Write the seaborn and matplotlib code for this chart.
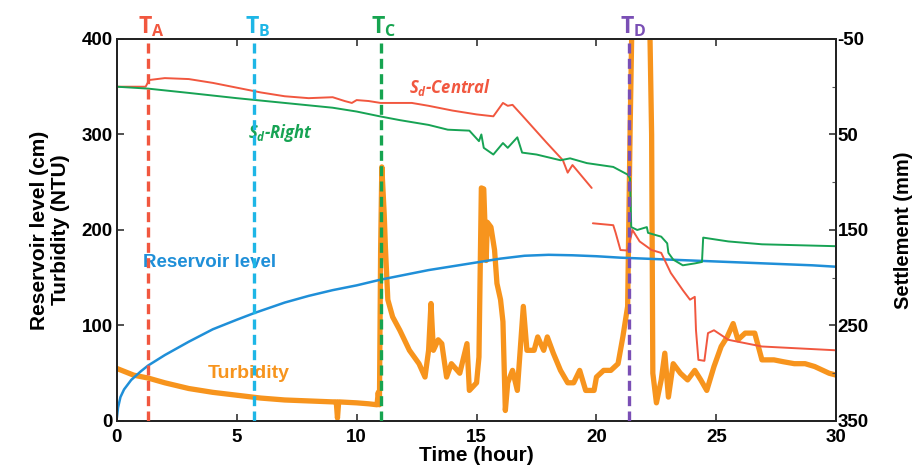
import numpy as np
import pandas as pd
import matplotlib
matplotlib.use("Agg")
import matplotlib.pyplot as plt
import seaborn as sns

# ---------------- data ----------------
level_t = [0, 0.05, 0.15, 0.3, 0.6, 1.0, 1.3, 2, 3, 4, 5, 5.73, 7, 8, 9, 10, 11, 12, 13, 14, 15,
           16, 17, 18, 19, 20, 21, 22, 23, 24, 25, 26, 27, 28, 29, 30]
level_cm = [3, 14, 25, 33, 43, 52, 58, 69, 83, 96, 106, 113, 124, 131, 137, 142, 148, 153, 158, 162, 166,
            170, 173, 174, 173.5, 172.5, 171, 170, 169, 168, 167, 166, 165, 164, 163, 161.5]

turb_t = [0, 0.3, 0.7, 1.3, 2, 3, 4, 5, 6, 7, 8, 9, 9.15, 9.2, 9.25, 10, 10.5, 10.85, 10.9, 10.95,
          11.0, 11.05, 11.15, 11.2, 11.3, 11.5, 11.8, 12.2, 12.6, 12.85, 13.0, 13.1, 13.2, 13.4, 13.55,
          13.75, 13.95, 14.3, 14.6, 14.7, 15.0, 15.1, 15.2, 15.3, 15.4, 15.45, 15.6, 15.75, 15.85, 16.0,
          16.1, 16.2, 16.3, 16.5, 16.7, 16.95, 17.1, 17.4, 17.55, 17.8, 17.95, 18.2, 18.5, 18.8, 19.05,
          19.3, 19.55, 19.9, 20.0, 20.3, 20.6, 20.9, 21.1, 21.3, 21.4, 21.5, 22.2, 22.3, 22.35, 22.5,
          22.7, 22.85, 23.0, 23.2, 23.5, 23.8, 24.1, 24.35, 24.6, 24.9, 25.2, 25.45, 25.7, 25.9, 26.2,
          26.6, 26.9, 27.4, 27.8, 28.25, 28.7, 29.1, 29.7, 30]
turb_ntu = [55, 52, 48, 45, 40, 34, 30, 27, 24, 22, 21, 20, 20, 3, 20, 19, 18, 17, 30, 17,
            180, 266, 216, 181, 127, 109, 95, 74, 60, 46, 74, 123, 74, 85, 81,
            46, 60, 50, 81, 32, 40, 67, 244, 243, 168, 208, 203, 179, 144, 127,
            104, 11, 40, 53, 32, 120, 74, 74, 88, 74, 88, 71, 53, 40, 40,
            53, 32, 32, 46, 53, 53, 60, 88, 120, 300, 450, 450, 300, 50, 19,
            43, 71, 25, 60, 50, 43, 53, 43, 32, 57, 78, 88, 102, 85, 92,
            92, 64, 64, 62, 60, 60, 57, 50, 48]

right_t = [0, 1.3, 3, 5, 7, 9, 10, 10.96, 11.8, 13.0, 13.8, 14.7, 15.1, 15.2, 15.3, 15.7, 16.1, 16.3,
           16.7, 16.9, 17.5, 18.5, 18.9, 19.6, 20.7, 21.3, 21.4, 21.45, 21.7, 22.1, 22.15, 22.7, 22.95,
           23.0, 23.2, 23.6, 24.1, 24.4, 24.45, 25.5, 26.9, 30]
right_mm = [0, 2, 6.5, 12, 17, 22, 26, 31, 35, 40, 45, 46, 57, 50, 64, 71, 59, 64,
            53, 69, 71, 77, 75, 80, 84, 92, 96, 147, 150, 147, 153, 157, 164,
            174, 181, 187, 185, 183.5, 158, 162, 165, 167]

central_t1 = [0, 1.2, 1.35, 2, 3, 4, 5, 6, 7, 8, 9, 9.5, 9.8, 10, 10.5, 11, 12.3, 13, 14, 15, 15.7,
              16.1, 16.3, 16.5, 16.9, 17.9, 18.6, 18.8, 19.0, 19.8]
central_mm1 = [0, 0, -7, -9, -8, -4, 1, 6, 10, 12, 11, 15, 17, 14, 15, 17, 17, 20, 25, 29, 31,
               17, 20, 19, 30, 58, 77, 90, 82, 106]
central_t2 = [19.85, 20.7, 20.8, 21.0, 21.3, 21.5, 21.8, 22.3, 22.7, 23.1, 23.6, 23.9, 24.1, 24.15,
              24.25, 24.5, 24.65, 24.9, 25.5, 26.9, 30]
central_mm2 = [143, 145, 153, 171, 171.5, 150, 162, 171, 174, 195, 213, 223, 220, 255,
               286, 287, 258, 255, 265, 272, 276]

events = ["A", "B", "C", "D"]
event_t = [1.3, 5.73, 11.0, 21.37]

x_ticks = [0, 5, 10, 15, 20, 25, 30]
left_ticks = [0, 100, 200, 300, 400]
right_ticks = [-50, 50, 150, 250, 350]

# ---------------- style ----------------
sns.set_theme(style="white")
plt.rcParams["font.family"] = ["Liberation Sans", "DejaVu Sans"]
plt.rcParams["axes.unicode_minus"] = False
plt.rcParams["mathtext.fontset"] = "custom"
plt.rcParams["mathtext.rm"] = "Open Sans"
plt.rcParams["mathtext.it"] = "Open Sans:italic:bold"
plt.rcParams["mathtext.bf"] = "Open Sans:bold"

c_orange = "#f7941d"
c_blue = "#1f8fd8"
c_red = "#f1573f"
c_green = "#17a354"
ev_colors = ["#f1573f", "#1eb6e6", "#16a450", "#7a4fb5"]

fig = plt.figure(figsize=(9.2, 4.75), dpi=100)
ax = fig.add_axes([0.127, 0.1137, 0.782, 0.8043])
ax2 = ax.twinx()

turb_df = pd.DataFrame({"t": turb_t, "v": turb_ntu})
lev_df = pd.DataFrame({"t": level_t, "v": level_cm})
sns.lineplot(data=turb_df, x="t", y="v", ax=ax, color=c_orange, lw=3.8, estimator=None, sort=False)
sns.lineplot(data=lev_df, x="t", y="v", ax=ax, color=c_blue, lw=1.8, estimator=None, sort=False)

r_df = pd.DataFrame({"t": right_t, "v": right_mm})
c1 = pd.DataFrame({"t": central_t1, "v": central_mm1})
c2 = pd.DataFrame({"t": central_t2, "v": central_mm2})
sns.lineplot(data=c1, x="t", y="v", ax=ax2, color=c_red, lw=1.4, estimator=None, sort=False)
sns.lineplot(data=c2, x="t", y="v", ax=ax2, color=c_red, lw=1.4, estimator=None, sort=False)
sns.lineplot(data=r_df, x="t", y="v", ax=ax2, color=c_green, lw=1.4, estimator=None, sort=False)

for name, t, col in zip(events, event_t, ev_colors):
    ax2.axvline(t, color=col, lw=2.4, ls=(0, (3, 1.6)), zorder=5)
    ax.text(t - 0.4, 1.016, r"$\mathbf{T}_\mathbf{%s}$" % name, transform=ax.get_xaxis_transform(),
            color=col, fontsize=16.5, ha="left", va="baseline")

ax.set_xlim(0, 30)
ax.set_ylim(0, 400)
ax2.set_ylim(350, -50)
ax.set_xticks(x_ticks)
ax.set_yticks(left_ticks)
ax2.set_yticks(right_ticks)
ax2.set_yticks([0, 100, 200, 300], minor=True)

for a in (ax, ax2):
    for s in a.spines.values():
        s.set_color("#222222")
        s.set_linewidth(1.3)

ax.tick_params(axis="both", direction="in", length=5, width=1.1, color="#222222",
               labelsize=13.5, top=True, bottom=True, left=True, right=False)
ax.tick_params(axis="x", pad=6)
ax.tick_params(axis="y", pad=3)
ax2.tick_params(axis="y", which="major", direction="in", length=5, width=1.1, color="#222222",
                labelsize=13.5, pad=1)
ax2.tick_params(axis="y", which="minor", direction="in", length=3, width=0.8, color="#555555", right=True)
for lbl in ax.get_xticklabels() + ax.get_yticklabels() + ax2.get_yticklabels():
    lbl.set_fontweight("bold")
    lbl.set_color("black")

ax.set_xlabel("Time (hour)", fontsize=15, fontweight="bold", labelpad=0, color="black")
ax.set_ylabel("Reservoir level (cm)\nTurbidity (NTU)", fontsize=15, labelpad=8,
              color="black", fontweight="bold", linespacing=1.15)
ax2.set_ylabel("Settlement (mm)", fontsize=14.5, fontweight="bold", labelpad=18, color="black")

ax.text(3.85, 166, "Reservoir level", color=c_blue, fontsize=13.5, fontweight="bold",
        ha="center", va="center")
ax.text(5.5, 50, "Turbidity", color=c_orange, fontsize=14, fontweight="bold",
        ha="center", va="center")
ax2.text(6.8, 48.5, r"$S_\mathregular{d}$-Right", color=c_green, fontsize=12,
         family="Open Sans", style="italic", fontweight="bold", ha="center", va="center")
ax2.text(13.9, 1, r"$S_\mathregular{d}$-Central", color=c_red, fontsize=12,
         family="Open Sans", style="italic", fontweight="bold", ha="center", va="center")

ax.set_zorder(ax2.get_zorder() - 1)
ax2.patch.set_visible(False)
fig.savefig("out.png", dpi=100)
